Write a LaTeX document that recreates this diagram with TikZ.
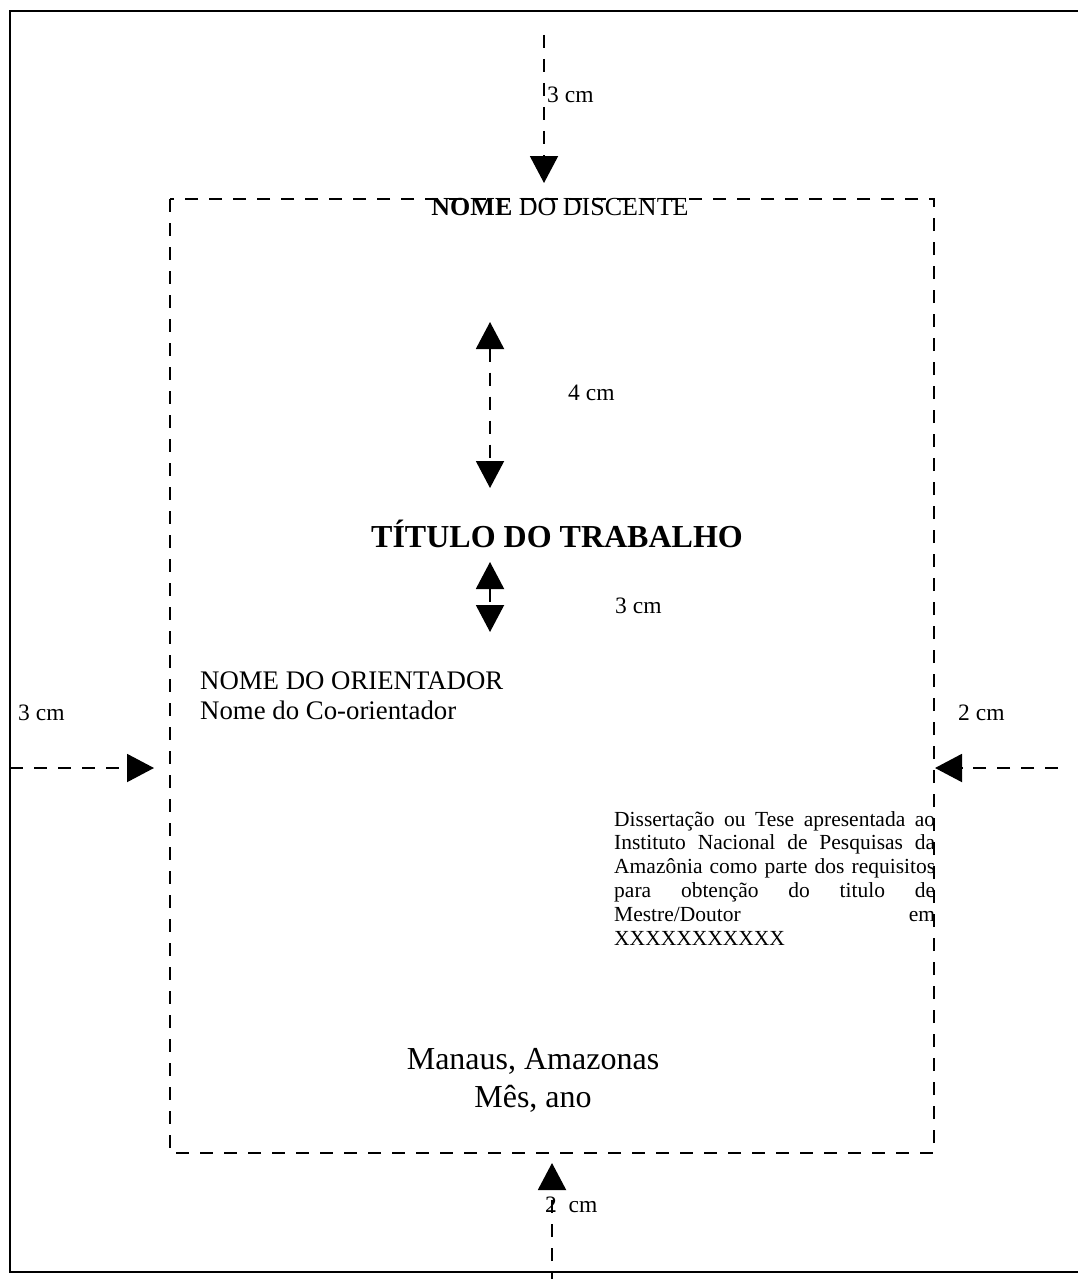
\documentclass[tikz,border=0pt]{standalone}
\usepackage{fontspec}
\setmainfont{Liberation Serif}
\usetikzlibrary{arrows.meta}
\newcommand{\jline}[1]{\leavevmode\hbox to 321pt{#1}}
\tikzset{
  dline/.style={line width=2pt, dash pattern=on 13pt off 11pt},
  headtip/.style={-{Triangle[width=28pt,length=27pt]}},
  bothtip/.style={{Triangle[width=28pt,length=27pt]}-{Triangle[width=28pt,length=27pt]}},
  lbl/.style={font=\fontsize{23.5}{28}\selectfont, inner sep=0pt, anchor=base west},
  body/.style={font=\fontsize{26.8}{30}\selectfont, inner sep=0pt},
  big/.style={font=\fontsize{32}{38}\selectfont, inner sep=0pt, anchor=base},
}
\begin{document}
\begin{tikzpicture}[x=1pt,y=-1pt]
\useasboundingbox (0,0) rectangle (1078,1279);
\clip (0,0) rectangle (1078,1279);
% page frame and margin box
\draw[line width=2.5pt] (10,11) rectangle (1095,1272);
\draw[dline] (170,199) rectangle (934,1153);

% texts
\node[body, font=\fontsize{26}{30}\selectfont, anchor=base] (discente) at (560,215) {\textbf{NOME} DO DISCENTE};
\node[big, font=\bfseries\fontsize{32}{38}\selectfont] (titulo) at (557,547) {TÍTULO DO TRABALHO};
\node[body, anchor=base west] (orient) at (200,689) {NOME DO ORIENTADOR};
\node[body, anchor=base west] (coorient) at (200,719) {Nome do Co-orientador};
\node[anchor=north west, inner sep=0pt, text width=321pt, align=left,
      font=\fontsize{21.5}{23.8}\selectfont] (diss) at (614,811)
  {\jline{Dissertação\hfill ou\hfill Tese\hfill apresentada\hfill ao}\\
   \jline{Instituto\hfill Nacional\hfill de\hfill Pesquisas\hfill da}\\
   \jline{Amazônia\hfill como\hfill parte\hfill dos\hfill requisitos}\\
   \jline{para\hfill obtenção\hfill do\hfill titulo\hfill de}\\
   \jline{Mestre/Doutor\hfill em}\\
   XXXXXXXXXXX};
\node[big] (manaus) at (533,1069) {Manaus, Amazonas};
\node[big] (mes) at (533,1107) {Mês, ano};

% dimension labels
\node[lbl] (ltop) at (547,103) {3 cm};
\node[lbl] (lfour) at (568,400) {4 cm};
\node[lbl] (lthree) at (615,613) {3 cm};
\node[lbl] (lleft) at (18,720) {3 cm};
\node[lbl] (lright) at (958,720) {2 cm};
\node[lbl] (lbot) at (545,1212) {2\ \ cm};

% arrow end points
\coordinate (t0) at (544,35);   \coordinate (t1) at (544,183);
\coordinate (a0) at (490,322);  \coordinate (a1) at (490,488);
\coordinate (b0) at (490,562);  \coordinate (b1) at (490,632);
\coordinate (l0) at (10,768);   \coordinate (l1) at (154,768);
\coordinate (r0) at (1058,768); \coordinate (r1) at (935,768);
\coordinate (d0) at (552,1285); \coordinate (d1) at (552,1163);

\draw[dline, headtip] (t0) -- (t1);
\draw[dline, bothtip] (a0) -- (a1);
\draw[dline, bothtip] (b0) -- (b1);
\draw[dline, headtip] (l0) -- (l1);
\draw[dline, headtip] (r0) -- (r1);
\draw[dline, headtip] (d0) -- (d1);
\end{tikzpicture}
\end{document}
